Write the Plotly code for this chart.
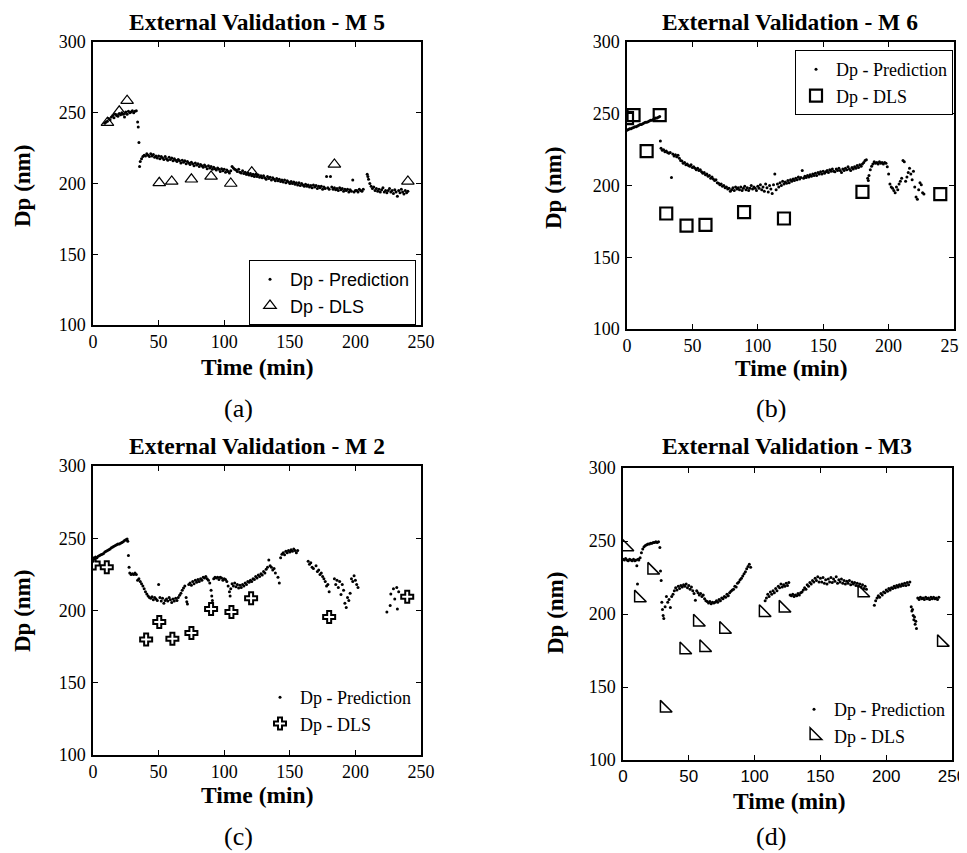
import plotly.graph_objects as go

# ---------------- data ----------------
# Panel (a): External Validation - M 5
m5_pred_t = [
    9, 10, 11, 12, 13, 14, 15, 16, 17, 18,
    19, 20, 21, 22, 23, 24, 25, 26, 27, 28,
    29, 30, 31, 32, 33, 34, 34.5, 35, 35.5, 36,
    37, 38, 39, 40, 41, 42, 43, 44, 45, 46,
    47, 48, 49, 50, 51, 52, 53, 54, 55, 56,
    57, 58, 59, 60, 61, 62, 63, 64, 65, 66,
    67, 68, 69, 70, 71, 72, 73, 74, 75, 76,
    77, 78, 79, 80, 81, 82, 83, 84, 85, 86,
    87, 88, 89, 90, 91, 92, 93, 94, 95, 96,
    97, 98, 99, 100, 101, 102, 103, 104, 105, 106,
    107, 108, 109, 110, 111, 112, 113, 114, 115, 116,
    117, 118, 119, 120, 121, 122, 123, 124, 125, 126,
    127, 128, 129, 130, 131, 132, 133, 134, 135, 136,
    137, 138, 139, 140, 141, 142, 143, 144, 145, 146,
    147, 148, 149, 150, 151, 152, 153, 154, 155, 156,
    157, 158, 159, 160, 161, 162, 163, 164, 165, 166,
    167, 168, 169, 170, 171, 172, 173, 174, 175, 176,
    177, 178, 179, 180, 181, 182, 183, 184, 185, 186,
    187, 188, 189, 190, 191, 192, 193, 194, 195, 196,
    197, 198, 199, 200, 201, 202, 203, 204, 205, 206,
    209, 209.5, 210, 211, 212, 213, 214, 215, 216, 217,
    218, 219, 220, 221, 222, 223, 224, 225, 226, 227,
    228, 229, 230, 231, 232, 233, 234, 235, 236, 237,
    238, 239, 240]
m5_pred_v = [
    242.5, 243.5, 244, 246, 245, 247, 248, 246.5, 249, 248,
    247.5, 249.5, 248.5, 250, 249, 247, 250.5, 249, 251, 250,
    250.5, 251.5, 250, 251, 251.5, 243.5, 240, 229, 212, 215.5,
    217.5, 219, 220, 219.5, 221, 220, 219, 221, 219.5, 220.5,
    218.5, 219.5, 218, 219.5, 217.5, 219, 218, 217, 219, 217.5,
    216.5, 218.5, 217, 218, 216, 217.5, 216.5, 215.5, 217, 216,
    214.5, 216.5, 215, 216, 214, 215.5, 214.5, 213.5, 215, 214,
    212.5, 214.5, 213, 214, 212, 213.5, 212.5, 211.5, 213, 212,
    210.5, 212.5, 211, 212, 210, 211.5, 210.5, 209.5, 211, 210,
    208.5, 210.5, 209, 210, 208, 209.5, 208.5, 207.5, 209, 212,
    211, 210, 209.5, 208.5, 210, 208, 207.5, 209, 207, 208,
    206.5, 207.5, 206, 207, 205.5, 206.5, 205, 206.5, 205, 206,
    204.5, 205.5, 204, 205.5, 204, 203, 205, 203.5, 204.5, 202.5,
    204, 203, 202, 203.5, 202, 203, 201.5, 202.5, 201, 202.5,
    200.5, 202, 201, 200, 201.5, 200, 201, 199.5, 200.5, 199,
    200.5, 198.5, 200, 199, 198, 199.5, 198, 199, 197.5, 198.5,
    197, 199, 197.5, 198.5, 196.5, 198, 197, 198, 196, 197.5,
    196.5, 205, 197, 196, 205, 197.5, 196, 197, 195.5, 196.5,
    195, 197, 195.5, 196.5, 194.5, 196, 195, 196, 194, 195.5,
    194.5, 202.5, 194, 195, 195, 194, 196, 195, 194.5, 196,
    206.5, 205, 203, 200, 198, 196.5, 197.5, 195, 196.5, 194.5,
    196, 194, 195.5, 197, 194, 195, 193.5, 195, 196.5, 194,
    195, 193, 195.5, 194, 191, 195, 193.5, 196, 194, 192.5,
    195, 193.5, 194.5]
m5_dls_t = [11, 20, 26, 50.5, 60, 75, 90, 105, 121, 184, 240]
m5_dls_v = [243, 251, 258.5, 200.5, 201.5, 203, 205, 200, 208, 213.5, 201.5]

# Panel (b): External Validation - M 6
m6_pred_t = [
    0, 1, 2, 3, 4, 5, 6, 7, 8, 9,
    10, 11, 12, 13, 14, 15, 16, 17, 18, 19,
    20, 21, 22, 23, 24, 25, 25.5, 26, 27, 28,
    29, 30, 31, 32, 33, 34, 35, 36, 37, 38,
    39, 40, 41, 42, 43, 44, 45, 46, 47, 48,
    49, 50, 51, 52, 53, 54, 55, 56, 57, 58,
    59, 60, 61, 62, 63, 64, 65, 66, 67, 68,
    69, 70, 71, 72, 73, 74, 75, 76, 77, 78,
    79, 80, 81, 82, 83, 84, 85, 86, 87, 88,
    89, 90, 91, 92, 93, 94, 95, 96, 97, 98,
    99, 100, 101, 102, 103, 104, 105, 106, 107, 108,
    109, 110, 111, 112, 113, 114, 115, 116, 117, 118,
    119, 120, 121, 122, 123, 124, 125, 126, 127, 128,
    129, 130, 131, 132, 133, 134, 135, 136, 137, 138,
    139, 140, 141, 142, 143, 144, 145, 146, 147, 148,
    149, 150, 151, 152, 153, 154, 155, 156, 157, 158,
    159, 160, 161, 162, 163, 164, 165, 166, 167, 168,
    169, 170, 171, 172, 173, 174, 175, 176, 177, 178,
    179, 180, 181, 182, 183, 184, 184.5, 185, 186, 187,
    188, 189, 190, 191, 192, 193, 194, 195, 196, 197,
    198, 199, 200, 201, 202, 203, 204, 205, 206, 207,
    208, 209, 210, 211, 212, 213, 214, 215, 216, 217,
    218, 219, 220, 221, 222, 223, 224, 225, 226, 227]
m6_pred_v = [
    238.5, 239, 239.5, 239.5, 240, 240.5, 241, 241, 241.5, 242,
    242.5, 242.5, 243, 243.5, 244, 244, 244.5, 245, 245.5, 245.5,
    246, 246.5, 247, 247, 247.5, 248, 231, 226, 224.5, 225,
    223.5, 224, 223, 222.5, 223, 205.5, 222, 220.5, 221.5, 220,
    221, 219, 217.5, 217, 215.5, 216, 214.5, 215, 214, 213.5,
    214.5, 212.5, 213, 212, 211, 212, 210.5, 211, 209.5, 208.5,
    209, 207.5, 208, 206.5, 207, 205, 206, 204.5, 203.5, 204,
    202, 201.5, 200.5, 201, 199.5, 200, 198.5, 199, 197.5, 198,
    196, 197, 198.5, 196.5, 199, 197.5, 198.5, 197, 199, 196.5,
    198, 199.5, 197, 198.5, 196.5, 198, 200, 197.5, 199, 198,
    196.5, 199.5, 198, 200.5, 197, 199, 196, 201, 198.5, 195.5,
    200, 197.5, 194.5, 200.5, 208, 197, 201, 199, 202, 200,
    203, 201, 202.5, 201.5, 203.5, 202, 204, 203, 204.5, 203.5,
    205, 204, 206, 204.5, 205.5, 210.5, 205, 206.5, 205.5, 207,
    206, 207.5, 206.5, 208, 207, 208.5, 207, 209, 208, 209.5,
    208, 210, 208.5, 209.5, 210.5, 209, 211, 210, 211.5, 210,
    209.5, 211.5, 210.5, 212, 210.5, 209, 211.5, 210.5, 212, 211,
    213, 211.5, 210.5, 212.5, 211.5, 213, 212, 214, 212.5, 214.5,
    213.5, 215, 216, 217.5, 218, 205, 203.5, 207, 211, 213.5,
    215, 216.5, 215.5, 216, 215, 216.5, 215.5, 216, 215, 216,
    215.5, 213, 208, 201, 199, 198, 196.5, 195, 199, 197,
    201, 203, 205, 217.5, 216.5, 203, 206, 209, 212, 208,
    204, 210, 199, 192, 190.5, 197, 202, 200.5, 195, 194]
m6_dls_t = [0, 5, 15, 25, 30, 45.5, 60, 89.5, 120, 180, 239.5]
m6_dls_v = [247, 249, 224, 249, 180.5, 172, 172.5, 181.5, 177, 195.5, 194]

# Panel (c): External Validation - M 2
m2_pred_t = [
    0, 1, 2, 3, 4, 5, 6, 7, 8, 9,
    10, 11, 12, 13, 14, 15, 16, 17, 18, 19,
    20, 21, 22, 23, 24, 25, 26, 26.5, 27, 27.5,
    28, 29, 30, 31, 32, 33, 34, 35, 36, 37,
    38, 39, 40, 41, 42, 43, 44, 45, 46, 47,
    48, 49, 50, 51, 52, 53, 54, 55, 56, 57,
    58, 59, 60, 61, 62, 63, 64, 65, 66, 67,
    68, 69, 70, 71, 71.5, 72, 73, 74, 75, 76,
    77, 78, 79, 80, 81, 82, 83, 84, 85, 86,
    87, 88, 89, 90, 90.5, 91, 92, 93, 94, 95,
    96, 97, 98, 99, 100, 101, 102, 103, 104, 104.5,
    105, 106, 107, 108, 109, 110, 111, 112, 113, 114,
    115, 116, 117, 118, 119, 120, 121, 122, 123, 124,
    125, 126, 127, 128, 129, 130, 131, 132, 133, 134,
    135, 136, 137, 138, 139, 141, 142, 143, 144, 145,
    146, 147, 148, 149, 150, 151, 152, 153, 154, 155,
    156, 164, 165, 166, 167, 168, 170, 171, 172, 173,
    174, 175, 176, 177, 178, 179, 180, 184, 185, 186,
    187, 188, 189, 190, 191, 192, 193, 194, 195, 196,
    197, 198, 199, 200, 201, 202, 224, 226.5, 227, 229,
    230, 231.5, 232, 233]
m2_pred_v = [
    234, 235.5, 237, 236.5, 237.5, 238, 238.5, 239, 239.5, 240.5,
    241, 241.5, 242, 242.5, 243.5, 244, 244.5, 245, 245.5, 246,
    246, 246.5, 247, 247.5, 248.5, 249, 249.5, 248, 238, 230,
    226, 225, 225.5, 225, 226, 225, 221, 222, 220, 218.5,
    217, 215, 213, 211.5, 210, 209, 208.5, 209.5, 207.5, 209,
    208, 207, 218, 209, 206.5, 208.5, 205, 207, 208, 206.5,
    209, 207.5, 205.5, 208, 206.5, 208.5, 207, 209, 210.5, 212,
    214, 215.5, 217, 209, 206, 204.5, 218, 219, 217.5, 220,
    218.5, 221, 219.5, 221.5, 220, 222, 221, 223, 222.5, 223.5,
    222, 221, 219, 214, 210, 207, 222, 223, 222.5, 223,
    221.5, 223, 222.5, 221, 222, 221.5, 220, 217, 213, 210,
    215, 218.5, 217, 219, 216.5, 218, 215.5, 217.5, 216, 218,
    217, 219, 218, 220, 219.5, 221, 220, 222, 221.5, 223.5,
    222.5, 224.5, 223.5, 225.5, 224.5, 227, 226, 228.5, 230, 235,
    231, 230, 228, 229, 226, 223, 219, 236.5, 239, 240,
    238.5, 241, 240, 241.5, 240.5, 242, 241, 242.5, 241.5, 240,
    241.5, 234, 232, 233, 230, 229, 231, 227, 228, 225,
    226, 223.5, 222, 220, 217, 218, 213, 222, 218, 221,
    216, 220, 211, 218, 214, 205, 202, 209, 207, 212,
    222, 220, 224, 221, 218, 216, 199, 203.5, 211.5, 215,
    208, 216, 201, 213]
m2_dls_t = [0.5, 10.5, 40.5, 50.5, 60.5, 75, 90, 105.5, 120.5, 180, 239.5]
m2_dls_v = [232.5, 230, 180, 192, 180.5, 184.5, 201, 199, 208.5, 195.5, 209.5]

# Panel (d): External Validation - M3
m3_pred_t = [
    0, 1, 2, 3, 4, 5, 6, 7, 8, 9,
    10, 10.5, 11, 11.5, 12, 13, 14, 15, 16, 17,
    18, 19, 20, 21, 22, 23, 24, 25, 26, 27,
    28, 28.5, 29, 29.5, 30, 30.5, 31, 32, 33, 34,
    35, 36, 37, 38, 39, 40, 41, 42, 43, 44,
    45, 46, 47, 48, 49, 50, 51, 52, 53, 54,
    55, 56, 57, 58, 59, 60, 61, 62, 63, 64,
    65, 66, 67, 68, 69, 70, 71, 72, 73, 74,
    75, 76, 77, 78, 79, 80, 81, 82, 83, 84,
    85, 86, 87, 88, 89, 90, 91, 92, 93, 94,
    95, 96, 97, 108, 109, 110, 111, 112, 113, 114,
    115, 116, 117, 118, 119, 120, 121, 122, 123, 124,
    125, 126, 127, 128, 129, 130, 131, 132, 133, 134,
    135, 136, 137, 138, 139, 140, 141, 142, 143, 144,
    145, 146, 147, 148, 149, 150, 151, 152, 153, 154,
    155, 156, 157, 158, 159, 160, 161, 162, 163, 164,
    165, 166, 167, 168, 169, 170, 171, 172, 173, 174,
    175, 176, 177, 178, 179, 180, 181, 182, 183, 184,
    185, 191, 192, 193, 194, 195, 196, 197, 198, 199,
    200, 201, 202, 203, 204, 205, 206, 207, 208, 209,
    210, 211, 212, 213, 214, 215, 216, 217, 218, 219,
    219.5, 220, 220.5, 221, 221.5, 222, 222.5, 223, 224, 225,
    226, 227, 228, 229, 230, 231, 232, 233, 234, 235,
    236, 237, 238, 239, 240]
m3_pred_v = [
    237.5, 237, 238, 237, 236.5, 237.5, 237, 236.5, 237.5, 236.5,
    237, 233, 220.5, 237.5, 237, 238.5, 242, 244.5, 246, 247,
    247.5, 248, 248, 248.5, 248.5, 249, 249, 249.5, 249, 249.5,
    245.5, 229.5, 223, 208, 203, 199, 197, 205, 212, 208,
    210, 204.5, 212, 213.5, 216, 218, 216.5, 219, 217.5, 219.5,
    218.5, 220, 219, 220.5, 218, 219.5, 217, 218.5, 216, 214,
    209.5, 216, 214.5, 213, 214, 212, 213, 210.5, 209, 208.5,
    207.5, 208.5, 207, 208, 207.5, 208, 209, 208, 210, 209,
    211, 210.5, 212, 211.5, 213.5, 212.5, 214.5, 215.5, 216.5, 217,
    219, 218.5, 221, 222, 223.5, 224.5, 226, 227.5, 229, 231,
    232.5, 234, 232, 209, 211, 213.5, 212, 215, 213.5, 216,
    214.5, 217.5, 216, 219, 218, 220.5, 218.5, 220, 219, 221,
    219.5, 221.5, 213, 212.5, 213.5, 212, 213, 212.5, 214, 213,
    214.5, 215, 216.5, 218, 217, 220, 219, 221.5, 220.5, 223,
    222, 224.5, 223, 225.5, 222, 224.5, 222, 225, 221, 223.5,
    220.5, 224, 222, 225, 221.5, 224, 222.5, 225.5, 221, 223.5,
    222, 224, 221, 223, 220.5, 222.5, 221, 223, 220, 222,
    220.5, 221.5, 219.5, 221, 219, 220.5, 218.5, 220, 217.5, 219,
    217, 206, 209, 211, 212.5, 211.5, 214, 213, 215, 214.5,
    216.5, 215.5, 217.5, 216.5, 218, 217.5, 219, 218, 219.5, 218.5,
    220, 219, 220.5, 219.5, 221, 219.5, 221.5, 220, 222, 205,
    202, 203, 199, 196, 198, 193, 195, 190, 211, 210,
    211.5, 210.5, 211, 210, 211.5, 210.5, 211, 210, 211.5, 210.5,
    211.5, 210.5, 211, 210, 211.5]
m3_dls_t = [2.3, 11.8, 21.9, 31.4, 46.3, 56.6, 61.4, 76.5, 106.6, 121.7, 181.6, 242]
m3_dls_v = [246, 211, 230, 135.5, 175.5, 194.5, 177, 189.5, 201, 204, 214.5, 180.5]

x_ticks = [0, 50, 100, 150, 200, 250]
y_ticks = [100, 150, 200, 250, 300]
titles = ["External Validation - M 5", "External Validation - M 6",
          "External Validation - M 2", "External Validation - M3"]
captions = ["(a)", "(b)", "(c)", "(d)"]
pred_name = "Dp - Prediction"
dls_name = "Dp - DLS"

for a, b in [(m5_pred_t, m5_pred_v), (m6_pred_t, m6_pred_v), (m2_pred_t, m2_pred_v),
             (m3_pred_t, m3_pred_v), (m5_dls_t, m5_dls_v), (m6_dls_t, m6_dls_v),
             (m2_dls_t, m2_dls_v), (m3_dls_t, m3_dls_v)]:
    assert len(a) == len(b), (len(a), len(b))

# ---------------- layout helpers ----------------
# The page body has an 8px margin, so the figure is drawn 8px in from the
# window corner; page pixel positions are converted to figure fractions.
OFF = 8
PAGE_W, PAGE_H = 967, 853
W, H = PAGE_W - OFF, PAGE_H - OFF
SERIF = "Liberation Serif, Times New Roman, serif"
SANS = "Liberation Sans, Arial, sans-serif"


def fx(x):
    return (x - OFF) / W


def fy(y):
    return 1 - (y - OFF) / H


panels = [
    dict(xd=(93, 421), yd=(42, 325), pred=(m5_pred_t, m5_pred_v), dls=(m5_dls_t, m5_dls_v),
         symbol="triangle-up-open", msize=11, mlw=1.2,
         title=(257, 22), xt=(257, 367), yt=(22, 186), cap=(238, 408),
         legend=dict(x=249, y=260, border=1, font=SANS), xfont=SERIF, xfs=18),
    dict(xd=(627, 954), yd=(42, 329), pred=(m6_pred_t, m6_pred_v), dls=(m6_dls_t, m6_dls_v),
         symbol="square-open", msize=12, mlw=2.2,
         title=(790, 22), xt=(791, 368), yt=(554, 188), cap=(771, 408),
         legend=dict(x=795, y=50, border=1, font=SERIF), xfont=SERIF, xfs=18),
    dict(xd=(93, 421), yd=(466, 755), pred=(m2_pred_t, m2_pred_v), dls=(m2_dls_t, m2_dls_v),
         symbol="cross-open", msize=10, mlw=2.0,
         title=(257, 446), xt=(257, 795), yt=(22, 611), cap=(238, 836),
         legend=dict(x=260, y=679, border=0, font=SERIF), xfont=SERIF, xfs=18),
    dict(xd=(623, 952), yd=(468, 760), pred=(m3_pred_t, m3_pred_v), dls=(m3_dls_t, m3_dls_v),
         symbol="triangle-sw-open", msize=13, mlw=1.5,
         title=(787, 446), xt=(789, 801), yt=(555, 613), cap=(771, 836),
         legend=dict(x=794, y=691, border=0, font=SERIF), xfont=SANS, xfs=17),
]

fig = go.Figure()
annotations = []
layout = dict(
    template="none",
    width=W, height=H, autosize=False,
    margin=dict(l=0, r=0, t=0, b=0, pad=0, autoexpand=False),
    paper_bgcolor="white", plot_bgcolor="white",
    showlegend=True,
)

for i, p in enumerate(panels):
    n = "" if i == 0 else str(i + 1)
    leg = "legend" + n
    fig.add_trace(go.Scatter(
        x=p["pred"][0], y=p["pred"][1], mode="markers", name=pred_name,
        marker=dict(color="black", size=3, symbol="circle", line=dict(width=0)),
        xaxis="x" + n, yaxis="y" + n, legend=leg, showlegend=True,
    ))
    fig.add_trace(go.Scatter(
        x=p["dls"][0], y=p["dls"][1], mode="markers", name=dls_name,
        marker=dict(color="black", size=p["msize"], symbol=p["symbol"],
                    line=dict(width=p["mlw"], color="black")),
        xaxis="x" + n, yaxis="y" + n, legend=leg, showlegend=True,
    ))
    axis_common = dict(
        showgrid=False, zeroline=False, showline=True, linecolor="black", linewidth=1.5,
        mirror="ticks", ticks="inside", ticklen=5, tickwidth=1, tickcolor="black",
        automargin=False, ticklabeloverflow="allow",
    )
    layout["xaxis" + n] = dict(
        axis_common, domain=[fx(p["xd"][0]), fx(p["xd"][1])], range=[0, 250],
        tickvals=x_ticks, anchor="y" + n, ticklabelstandoff=0,
        tickfont=dict(family=p["xfont"], size=p["xfs"], color="black"),
    )
    layout["yaxis" + n] = dict(
        axis_common, domain=[fy(p["yd"][1]), fy(p["yd"][0])], range=[100, 300],
        tickvals=y_ticks, anchor="x" + n, ticklabelstandoff=2,
        tickfont=dict(family=SERIF, size=18, color="black"),
    )
    L = p["legend"]
    layout[leg] = dict(
        x=fx(L["x"]), y=fy(L["y"]), xanchor="left", yanchor="top",
        xref="paper", yref="paper",
        bgcolor="white" if L["border"] else "rgba(0,0,0,0)",
        bordercolor="black", borderwidth=L["border"],
        font=dict(family=L["font"], size=18, color="black"),
        tracegroupgap=0, itemsizing="trace",
    )
    annotations += [
        dict(x=fx(p["title"][0]), y=fy(p["title"][1]), text="<b>%s</b>" % titles[i],
             font=dict(family=SERIF, size=23.5, color="black")),
        dict(x=fx(p["xt"][0]), y=fy(p["xt"][1]), text="<b>Time (min)</b>",
             font=dict(family=SERIF, size=23.5, color="black")),
        dict(x=fx(p["yt"][0]), y=fy(p["yt"][1]), text="<b>Dp (nm)</b>", textangle=-90,
             font=dict(family=SERIF, size=23, color="black")),
        dict(x=fx(p["cap"][0]), y=fy(p["cap"][1]), text=captions[i],
             font=dict(family=SERIF, size=26, color="black")),
    ]

for a in annotations:
    a.update(xref="paper", yref="paper", xanchor="center", yanchor="middle", showarrow=False)
layout["annotations"] = annotations
fig.update_layout(**layout)
fig.write_html("out.html")
